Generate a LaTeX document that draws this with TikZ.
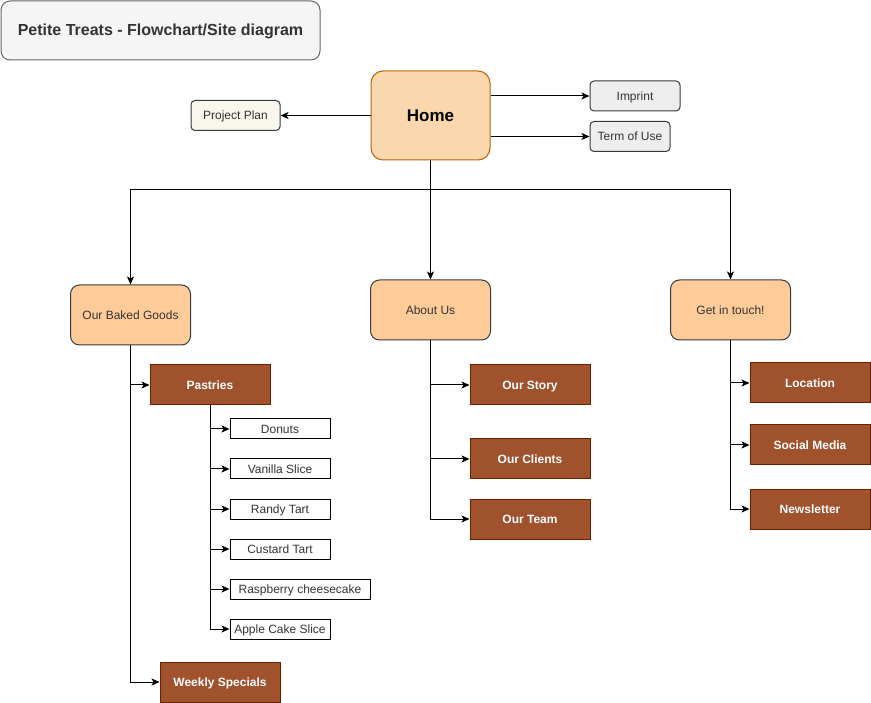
\documentclass[tikz,border=0pt]{standalone}
\usepackage{fontspec}
\setmainfont{Liberation Sans}
\usepackage{tikz}
\usepackage{xcolor}
\usetikzlibrary{
    arrows,
    arrows.meta,
    shapes,
    calc,
    positioning
}
\definecolor{titlefill}{HTML}{F5F5F5}
\definecolor{titledraw}{HTML}{666666}
\definecolor{titletext}{HTML}{333333}
\definecolor{homefill}{HTML}{FAD7AC}
\definecolor{homedraw}{HTML}{B46504}
\definecolor{planfill}{HTML}{F9F7ED}
\definecolor{legalfill}{HTML}{EEEEEE}
\definecolor{boxdraw}{HTML}{36393D}
\definecolor{sectionfill}{HTML}{FFCC99}
\definecolor{pagefill}{HTML}{A0522D}
\definecolor{pagedraw}{HTML}{6D1F00}

\begin{document}
\begin{tikzpicture}[x=1pt, y=-1pt, >={Stealth[length=8pt, width=7pt, inset=2pt]}, line width=1pt,
    every node/.style={font=\fontsize{12}{14}\selectfont, text=titletext, text height=10pt, text depth=1pt},
    smallbox/.style={draw=boxdraw, rounded corners=4pt, minimum height=30pt, inner sep=0pt},
    section/.style={draw=boxdraw, fill=sectionfill, rounded corners=9pt, minimum width=120pt, minimum height=60pt, inner sep=0pt},
    subpage/.style={draw=pagedraw, fill=pagefill, minimum width=120pt, minimum height=40pt, inner sep=0pt, text=white, font=\fontsize{12}{14}\selectfont\bfseries},
    treat/.style={draw=black, minimum width=100pt, minimum height=20pt, inner sep=0pt},
    link/.style={->, line width=1pt}]
    \useasboundingbox (0, 0) rectangle (871, 703);

    \node[draw=titledraw, fill=titlefill, rounded corners=9pt, minimum width=319pt, minimum height=59pt, font=\fontsize{16}{19}\selectfont\bfseries, text height=12.5pt, text depth=1.5pt] (title) at (160.5, 30.5) {Petite Treats - Flowchart/Site diagram};

    \node[draw=homedraw, fill=homefill, rounded corners=12pt, minimum width=119pt, minimum height=89pt, font=\fontsize{17}{20}\selectfont\bfseries, text=black, text height=13.5pt, text depth=2pt] (home) at (430.5, 115.5) {Home};
    \node[smallbox, fill=planfill, minimum width=89pt] (plan) at (235.5, 115.5) {Project Plan};
    \node[smallbox, fill=legalfill, minimum width=90pt] (imprint) at (635, 96) {Imprint};
    \node[smallbox, fill=legalfill, minimum width=80pt] (terms) at (630, 136.5) {Term of Use};

    \node[section] (baked) at (130.5, 315) {Our Baked Goods};
    \node[section] (about) at (430.5, 310) {About Us};
    \node[section] (contact) at (730.5, 310) {Get in touch!};
    \coordinate (split) at (430.5, 190);

    \node[subpage] (pastries) at (210, 385) {Pastries};
    \node[treat] (donuts) at (280, 429) {Donuts};
    \node[treat] (vanilla) at (280, 469) {Vanilla Slice};
    \node[treat] (randy) at (280, 509) {Randy Tart};
    \node[treat] (custard) at (280, 549) {Custard Tart};
    \node[treat, minimum width=140pt] (cheesecake) at (300, 589) {Raspberry cheesecake};
    \node[treat] (apple) at (280, 629) {Apple Cake Slice};
    \node[subpage] (weekly) at (220, 682) {Weekly Specials};

    \node[subpage] (story) at (530, 385) {Our Story};
    \node[subpage] (clients) at (530, 459) {Our Clients};
    \node[subpage] (team) at (530, 519) {Our Team};

    \node[subpage] (location) at (810, 383) {Location};
    \node[subpage] (social) at (810, 445) {Social Media};
    \node[subpage] (news) at (810, 509) {Newsletter};

    \draw[link] (home) -- (plan);
    \draw[link] (home.east |- imprint) -- (imprint);
    \draw[link] (home.east |- terms) -- (terms);

    \draw (home) -- (split);
    \draw[link] (split) -| (baked);
    \draw[link] (split) -- (about);
    \draw[link] (split) -| (contact);

    \draw[link] (baked) |- (pastries);
    \draw[link] (baked) |- (weekly);
    \foreach \item in {donuts, vanilla, randy, custard, cheesecake, apple}
        \draw[link] (pastries) |- (\item);

    \foreach \item in {story, clients, team}
        \draw[link] (about) |- (\item);

    \foreach \item in {location, social, news}
        \draw[link] (contact) |- (\item);
\end{tikzpicture}
\end{document}
